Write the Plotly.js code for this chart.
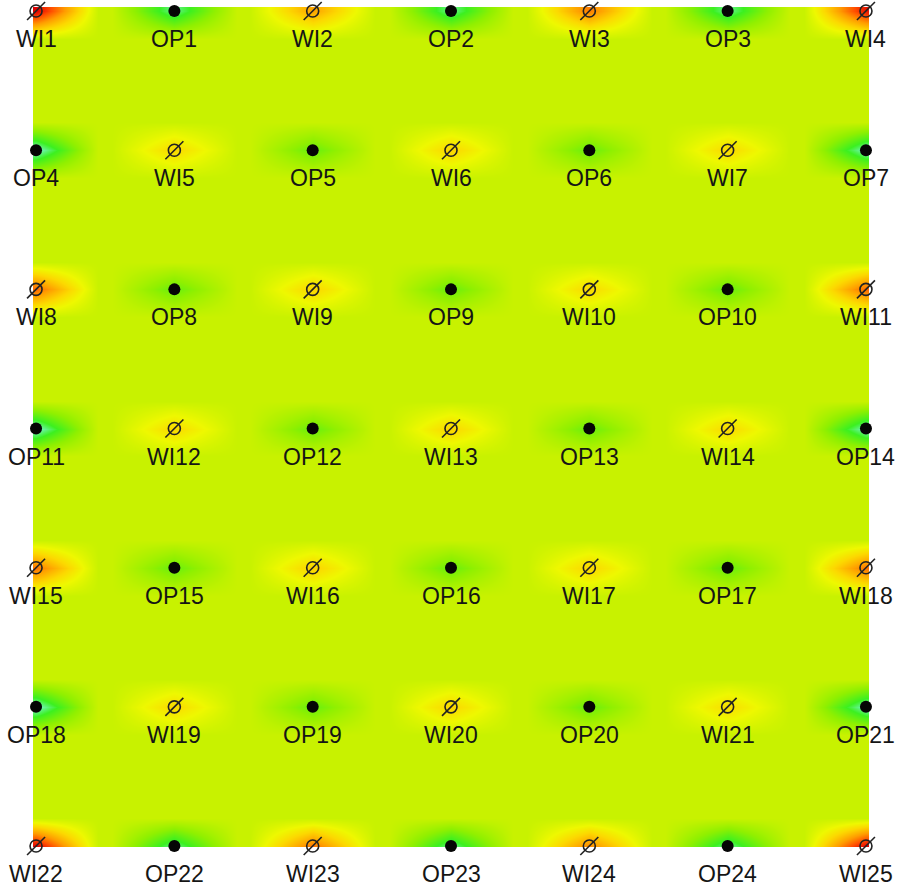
<!DOCTYPE html>
<html>
<head>
<meta charset="utf-8">
<script src="https://cdn.plot.ly/plotly-3.0.1.min.js"></script>
<style>
  html, body { margin: 0; padding: 0; background: #fff; }
  #chart { width: 902px; height: 887px; }
</style>
</head>
<body>
<div id="chart"></div>
<script>
// well pattern, row by row from the top
const wellLabels = [
  ["WI1", "OP1", "WI2", "OP2", "WI3", "OP3", "WI4"],
  ["OP4", "WI5", "OP5", "WI6", "OP6", "WI7", "OP7"],
  ["WI8", "OP8", "WI9", "OP9", "WI10", "OP10", "WI11"],
  ["OP11", "WI12", "OP12", "WI13", "OP13", "WI14", "OP14"],
  ["WI15", "OP15", "WI16", "OP16", "WI17", "OP17", "WI18"],
  ["OP18", "WI19", "OP19", "WI20", "OP20", "WI21", "OP21"],
  ["WI22", "OP22", "WI23", "OP23", "WI24", "OP24", "WI25"],
];
const wellColumns = [0, 1, 2, 3, 4, 5, 6];
const wellRows = [0, 1, 2, 3, 4, 5, 6];

// field level read at each well (0 = producer core, 1 = hottest injector)
const wellLevel = [
  [1.00, 0.10, 0.68, 0.10, 0.76, 0.10, 0.96],
  [0.06, 0.55, 0.21, 0.56, 0.21, 0.55, 0.07],
  [0.80, 0.21, 0.56, 0.21, 0.55, 0.21, 0.80],
  [0.06, 0.55, 0.21, 0.56, 0.21, 0.55, 0.07],
  [0.78, 0.21, 0.57, 0.21, 0.56, 0.21, 0.78],
  [0.06, 0.55, 0.21, 0.56, 0.21, 0.54, 0.07],
  [1.00, 0.10, 0.78, 0.10, 0.74, 0.10, 1.00],
];
const baseLevel = 0.35;

const fieldColors = [
  [0.0, "#d8fff4"],
  [0.08, "#70f4b8"],
  [0.16, "#3cf020"],
  [0.26, "#90f000"],
  [0.35, "#c8f200"],
  [0.45, "#eef800"],
  [0.55, "#fcd800"],
  [0.7, "#ff9c00"],
  [0.85, "#ff4c00"],
  [1.0, "#e00000"],
];

/**
 * grid nodes: one at each well plus a baseline node either side of it
 * @param {number[]} positions
 * @param {number} spread
 */
function buildNodes(positions, spread) {
  const nodes = [];
  positions.forEach((p, i) => {
    if (i > 0) nodes.push({ v: p - spread, well: -1 });
    nodes.push({ v: p, well: i });
    if (i < positions.length - 1) nodes.push({ v: p + spread, well: -1 });
  });
  return nodes;
}

const xNodes = buildNodes(wellColumns, 0.45);
const yNodes = buildNodes(wellRows, 0.2);
const z = yNodes.map((yn) =>
  xNodes.map((xn) => (xn.well >= 0 && yn.well >= 0 ? wellLevel[yn.well][xn.well] : baseLevel)),
);

const producers = { x: [], y: [] };
const injectors = { x: [], y: [] };
const annotations = [];
wellLabels.forEach((row, r) => {
  row.forEach((label, c) => {
    const target = label.startsWith("OP") ? producers : injectors;
    target.x.push(wellColumns[c]);
    target.y.push(wellRows[r]);
    annotations.push({
      x: wellColumns[c],
      y: wellRows[r],
      text: label,
      showarrow: false,
      yshift: -28,
      xanchor: "center",
      yanchor: "middle",
      font: { family: "Arial, Liberation Sans, sans-serif", size: 23, color: "#151515" },
    });
  });
});

const traces = [
  {
    type: "heatmap",
    x: xNodes.map((n) => n.v),
    y: yNodes.map((n) => n.v),
    z,
    zmin: 0,
    zmax: 1,
    zsmooth: "best",
    colorscale: fieldColors,
    showscale: false,
    hoverinfo: "skip",
  },
  {
    type: "scatter",
    mode: "markers",
    x: producers.x,
    y: producers.y,
    cliponaxis: false,
    marker: { symbol: "circle", size: 12, color: "#050505" },
    hoverinfo: "skip",
  },
  {
    type: "scatter",
    mode: "markers",
    x: injectors.x,
    y: injectors.y,
    cliponaxis: false,
    marker: { symbol: "circle-open", size: 12, color: "#222", line: { width: 1.6, color: "#222" } },
    hoverinfo: "skip",
  },
  {
    type: "scatter",
    mode: "markers",
    x: injectors.x,
    y: injectors.y,
    cliponaxis: false,
    marker: { symbol: "line-ne", size: 18, color: "#222", line: { width: 1.6, color: "#222" } },
    hoverinfo: "skip",
  },
];

const layout = {
  width: 902,
  height: 887,
  margin: { l: 33, r: 33, t: 7, b: 40 },
  paper_bgcolor: "#fff",
  plot_bgcolor: "#fff",
  showlegend: false,
  xaxis: { range: [-0.022, 6.022], visible: false, fixedrange: true },
  yaxis: { range: [6.007, -0.029], visible: false, fixedrange: true },
  annotations,
};

Plotly.newPlot("chart", traces, layout, { displayModeBar: false, staticPlot: true });
</script>
</body>
</html>
